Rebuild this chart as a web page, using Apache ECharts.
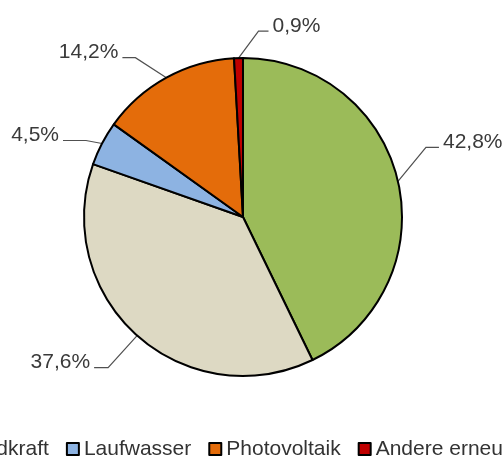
<!DOCTYPE html>
<html>
<head>
<meta charset="utf-8">
<script src="https://cdn.jsdelivr.net/npm/echarts@6/dist/echarts.min.js"></script>
<style>
  html, body { margin: 0; padding: 0; background: #fff; }
  #chart { width: 503px; height: 458px; }
</style>
</head>
<body>
<div id="chart"></div>
<script>
const categories = ['Biomasse', 'Windkraft', 'Laufwasser', 'Photovoltaik', 'Andere erneuerbare'];
const shares = [42.8, 37.6, 4.5, 14.2, 0.9];
const colors = ['#9BBB59', '#DDD9C3', '#8DB3E2', '#E46C0A', '#C00000'];
// leader line styling per slice: [elbow dx, elbow dy, horizontal run]
const leaderStyle = [[28, -34, 13], [-29, 32, -14], [-16, -3, -23], [-31, -20, -13], [20, -27, 10]];

const chart = echarts.init(document.getElementById('chart'));
const font = "'Liberation Sans', Arial, sans-serif";

chart.setOption({
  animation: false,
  backgroundColor: '#fff',
  legend: {
    orient: 'horizontal',
    left: -185,
    top: 437,
    width: 1000,
    padding: 0,
    itemGap: 17,
    itemWidth: 12,
    itemHeight: 12,
    icon: 'rect',
    itemStyle: { borderColor: '#000', borderWidth: 2 },
    textStyle: { fontFamily: font, fontSize: 21, color: '#333', lineHeight: 24 },
    data: categories
  },
  series: [{
    type: 'pie',
    center: [243, 217],
    radius: 159,
    startAngle: 90,
    clockwise: true,
    itemStyle: { borderColor: '#000', borderWidth: 2 },
    label: {
      show: true,
      position: 'outside',
      fontFamily: font,
      fontSize: 21,
      color: '#3a3a3a',
      formatter: p => p.value.toFixed(1).replace('.', ',') + '%'
    },
    labelLine: { show: true, length: 20, length2: 10, lineStyle: { color: '#505050', width: 1.2 } },
    labelLayout: function (params) {
      const s = leaderStyle[params.dataIndex];
      const pts = params.labelLinePoints;
      if (!pts || !pts.length) return {};
      const a = pts[0];
      const e = [a[0] + s[0], a[1] + s[1]];
      const t = [e[0] + s[2], e[1]];
      const right = s[2] > 0;
      return {
        x: t[0] + (right ? 4 : -4),
        y: t[1] - 5,
        align: right ? 'left' : 'right',
        verticalAlign: 'middle',
        labelLinePoints: [a, e, t]
      };
    },
    data: categories.map((c, i) => ({ name: c, value: shares[i], itemStyle: { color: colors[i] } }))
  }]
});
</script>
</body>
</html>
